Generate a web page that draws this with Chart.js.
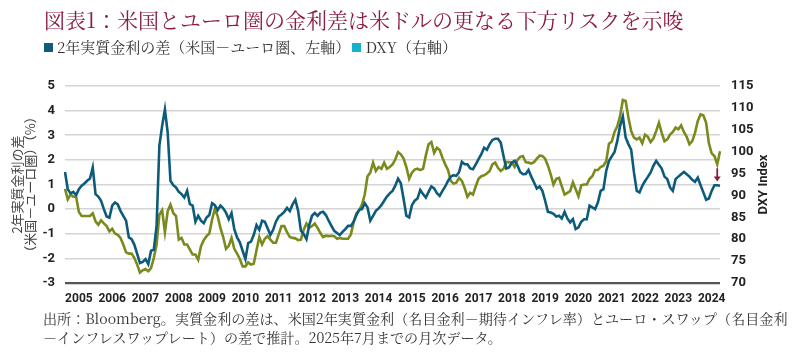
<!DOCTYPE html>
<html><head><meta charset="utf-8">
<script src="https://cdn.jsdelivr.net/npm/chart.js@4.4.1/dist/chart.umd.min.js"></script>
<style>
html,body{margin:0;padding:0;background:#fff;}
#wrap{position:relative;width:800px;height:355px;overflow:hidden;background:#fff;}
#c{position:absolute;left:0;top:0;}
.t{position:absolute;white-space:nowrap;font-family:"Noto Serif CJK JP","Noto Sans CJK JP",sans-serif;}
#title{left:44px;top:4px;font-size:21px;color:#8b1d41;}
#legend{left:44px;top:36px;font-size:15px;color:#333;}
.sq{display:inline-block;width:9px;height:9px;margin-right:4px;vertical-align:1px}
#note{left:43px;top:309px;font-size:14.1px;color:#333;line-height:19px;}
</style></head>
<body><div id="wrap">
<canvas id="c" width="800" height="355"></canvas>
<div class="t" id="title">図表1：米国とユーロ圏の金利差は米ドルの更なる下方リスクを示唆</div>
<div class="t" id="legend"><span class="sq" style="background:#115a78"></span>2年実質金利の差（米国－ユーロ圏、左軸）<span class="sq" style="background:#18b0cb;margin-left:2px"></span>DXY（右軸）</div>
<div class="t" id="note">出所：Bloomberg。実質金利の差は、米国2年実質金利（名目金利－期待インフレ率）とユーロ・スワップ（名目金利<br>－インフレスワップレート）の差で推計。2025年7月までの月次データ。</div>
</div>
<script>
// ---- data (monthly) ----
const seriesNames = ['2年実質金利の差（米国－ユーロ圏、左軸）', 'DXY（右軸）'];
const rateDiff = [
1.51,0.81,0.64,0.70,0.57,0.81,0.95,1.04,1.15,1.24,1.69,0.61,0.51,0.34,0.00,-0.30,-0.35,0.14,0.27,0.19,
-0.07,-0.27,-0.47,-1.15,-1.22,-1.45,-1.82,-2.19,-2.14,-2.03,-2.23,-1.69,-1.65,-0.68,2.57,3.38,4.05,3.11,1.15,0.97,
0.88,0.70,0.61,0.47,0.74,0.20,0.14,-0.51,-0.27,-0.47,-0.57,-0.34,-0.24,0.24,0.16,-0.04,0.14,0.03,-0.14,-0.41,
-0.16,-0.81,-1.15,-1.35,-1.69,-2.03,-1.38,-1.32,-1.05,-0.65,-0.84,-0.47,-0.51,-0.78,-1.05,-0.84,-0.51,-0.30,-0.22,-0.11,
0.05,-0.08,0.19,0.38,-0.07,-0.88,-1.01,-1.22,-0.65,-0.27,-0.16,-0.27,-0.14,-0.11,-0.24,-0.47,-0.68,-0.88,-0.97,-1.05,
-0.92,-0.81,-0.68,-0.68,-0.51,-0.24,-0.03,0.00,0.24,0.07,-0.47,-0.27,-0.07,0.03,0.16,0.34,0.51,0.64,0.74,0.95,
1.24,1.05,0.41,-0.27,-0.34,0.16,0.34,0.43,0.78,0.61,0.47,0.70,0.92,0.84,0.65,0.54,0.74,0.92,1.15,1.32,
1.38,1.35,1.51,1.92,1.82,1.82,1.65,1.62,1.82,2.03,2.23,2.49,2.41,2.64,2.81,2.86,2.86,2.70,2.16,1.65,
1.69,1.89,1.96,1.78,1.51,1.42,1.43,1.59,1.32,1.08,0.84,0.92,0.74,0.34,-0.11,-0.14,-0.19,-0.30,-0.27,-0.38,
-0.11,-0.38,-0.54,-0.41,-0.81,-0.74,-0.51,-0.41,-0.41,0.14,0.07,0.00,0.27,0.74,0.81,1.55,1.96,2.14,2.32,2.77,
3.38,3.76,2.91,2.64,2.41,1.49,0.74,0.68,0.95,1.14,1.31,1.49,1.76,1.96,1.80,1.65,1.32,1.22,0.88,0.74,
1.22,1.32,1.42,1.51,1.42,1.32,1.19,1.11,1.28,0.97,0.68,0.38,0.43,0.74,0.97,0.97,0.95
];
const dxy = [
91.5,89.1,90.2,89.7,89.7,86.2,85.3,85.3,85.3,85.3,85.9,84.1,83.3,84.3,83.6,83.0,81.8,82.4,81.3,81.0,
80.3,78.8,77.0,76.7,76.7,75.7,74.2,72.4,72.9,73.2,72.7,73.4,75.7,78.8,85.6,86.6,81.6,86.4,87.9,86.0,
85.3,79.9,80.3,78.8,78.8,77.6,76.5,76.5,75.3,78.4,79.8,80.7,81.3,84.5,86.9,85.3,82.6,80.5,77.8,78.5,
80.3,77.8,76.7,75.5,73.8,73.8,74.7,74.2,74.4,77.5,80.5,78.8,80.1,80.7,79.9,79.2,79.2,81.1,83.0,83.0,
81.6,80.5,80.3,80.2,79.8,79.9,82.2,83.6,82.6,83.0,83.6,82.6,81.4,80.5,80.8,80.7,80.8,80.7,80.1,80.3,
80.1,80.1,80.1,81.1,83.9,85.9,86.6,87.9,90.2,94.4,95.2,97.5,95.6,96.5,96.1,97.5,96.1,96.5,97.1,98.2,
99.9,99.4,98.4,96.5,93.8,95.2,95.9,96.1,95.8,96.1,99.1,101.7,102.2,99.7,100.9,100.4,98.6,97.1,95.8,93.3,
92.7,92.9,94.0,93.3,91.7,89.7,90.6,90.2,92.1,93.8,94.4,94.6,95.0,95.6,97.1,97.5,96.3,95.6,96.1,97.6,
97.6,97.5,96.5,98.1,98.8,99.0,97.6,97.5,97.3,97.6,98.4,99.1,99.0,98.4,96.8,94.8,92.5,93.8,94.0,92.1,
90.2,90.6,91.0,93.0,91.4,89.8,92.3,92.5,92.5,93.8,94.4,95.8,95.8,96.5,96.8,97.8,101.8,102.3,104.5,105.8,
108.1,111.8,111.6,107.8,104.7,103.2,102.8,103.2,101.9,103.9,103.4,102.2,103.0,104.7,106.6,104.3,102.4,102.8,103.9,104.5,
105.5,105.1,106.0,104.5,103.4,101.7,102.4,104.3,107.0,108.5,108.3,106.6,101.9,99.6,99.0,97.1,100.1
];
const yearLabels = ['2005','2006','2007','2008','2009','2010','2011','2012','2013','2014',
  '2015','2016','2017','2018','2019','2020','2021','2022','2023','2024'];
const firstLabelIndex = 5;            // category index of the first year label
const leftTicks = {min:-3, max:5, step:1};
const rightTicks = {min:70, max:115, step:5};
const arrowAt = {index:235, fromDxy:96.2, toDiff:1.12};

// categories: one per month
const categories = rateDiff.map((_, i) => {
  const k = i - firstLabelIndex;
  return (k >= 0 && k % 12 === 0 && yearLabels[k/12]) ? yearLabels[k/12] : '';
});

const TEAL = '#0d5b7b', OLIVE = '#7b8a1c', MAROON = '#8b1d41';
const tickFont = {family:'Roboto', weight:'bold', size:13};

const rightTitle = {
  id:'rightTitle',
  afterDraw(chart){
    const ctx = chart.ctx;
    ctx.save();
    ctx.translate(764, (chart.chartArea.top + chart.chartArea.bottom)/2);
    ctx.rotate(-Math.PI/2);
    ctx.font = 'bold 13px Roboto';
    ctx.fillStyle = '#222';
    ctx.textAlign = 'center';
    ctx.textBaseline = 'middle';
    ctx.fillText('DXY Index', 0, 0);
    ctx.restore();
  }
};
const arrowPlugin = {
  id:'arrow',
  afterDatasetsDraw(chart){
    const {ctx, scales} = chart;
    const x = scales.x.getPixelForValue(arrowAt.index);
    const y1 = scales.y1.getPixelForValue(arrowAt.fromDxy);
    const y2 = scales.y.getPixelForValue(arrowAt.toDiff);
    ctx.save();
    ctx.strokeStyle = MAROON; ctx.fillStyle = MAROON; ctx.lineWidth = 1.8;
    ctx.beginPath(); ctx.moveTo(x, y1); ctx.lineTo(x, y2 - 4); ctx.stroke();
    ctx.beginPath(); ctx.moveTo(x - 3.5, y2 - 5); ctx.lineTo(x + 3.5, y2 - 5); ctx.lineTo(x, y2); ctx.closePath(); ctx.fill();
    ctx.restore();
  }
};

new Chart(document.getElementById('c'), {
  type:'line',
  data:{
    labels: categories,
    datasets:[
      {label:seriesNames[0], data:rateDiff, yAxisID:'y', borderColor:TEAL, borderWidth:2.6, pointRadius:0, tension:0, fill:false},
      {label:seriesNames[1], data:dxy, yAxisID:'y1', borderColor:OLIVE, borderWidth:2.6, pointRadius:0, tension:0, fill:false}
    ]
  },
  options:{
    responsive:false, animation:false, devicePixelRatio:1,
    layout:{padding:{left:0,right:0,top:86,bottom:0}},
    plugins:{legend:{display:false}, tooltip:{enabled:false}},
    scales:{
      x:{
        type:'category', offset:false,
        grid:{display:false, drawTicks:false}, border:{display:false},
        ticks:{autoSkip:false, maxRotation:0, minRotation:0, padding:9, color:'#222',
          font:{family:'Roboto', weight:'bold', size:12},
          callback(v, i){ return categories[i]; }},
        afterFit(s){ s.height = 72; }
      },
      y:{
        position:'left', min:leftTicks.min, max:leftTicks.max,
        ticks:{stepSize:leftTicks.step, padding:10, color:'#222', font:tickFont},
        grid:{drawTicks:false,
          color:c => c.tick && c.tick.value === leftTicks.min ? '#555' : '#d4d4d4',
          lineWidth:c => c.tick && c.tick.value === leftTicks.min ? 2.2 : 1.6},
        border:{display:false},
        title:{display:true, text:['2年実質金利の差','（米国－ユーロ圏）（%）'], color:'#444',
          font:{family:'Noto Sans CJK JP', size:13, lineHeight:1.0}, padding:{top:11,bottom:0}},
        afterFit(s){ s.width = 65; }
      },
      y1:{
        position:'right', min:rightTicks.min, max:rightTicks.max,
        ticks:{stepSize:rightTicks.step, padding:11, color:'#222', font:tickFont},
        grid:{display:false, drawTicks:false}, border:{display:false},
        afterFit(s){ s.width = 80; }
      }
    }
  },
  plugins:[rightTitle, arrowPlugin]
});
</script>
</body></html>
